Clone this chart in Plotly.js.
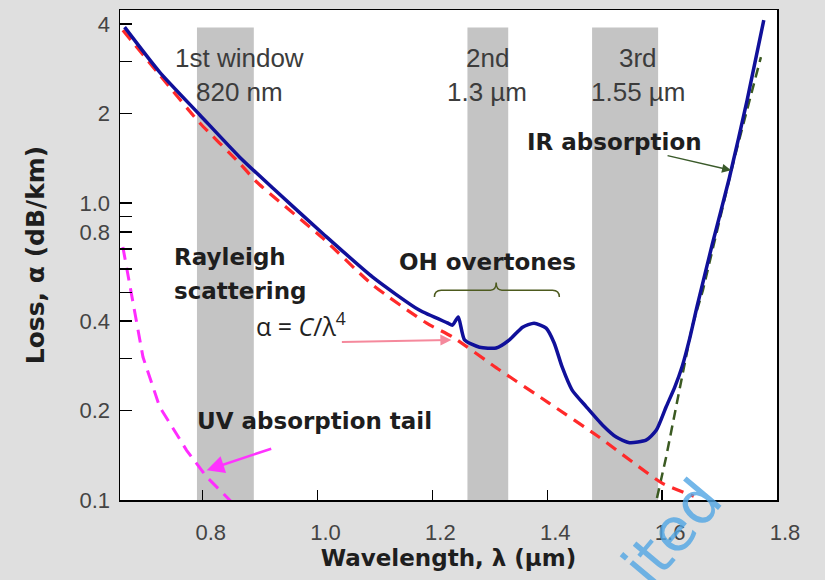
<!DOCTYPE html>
<html>
<head>
<meta charset="utf-8">
<script src="https://cdn.plot.ly/plotly-3.0.1.min.js"></script>
<style>html,body{margin:0;padding:0;background:#dfdfdf;}</style>
</head>
<body>
<div id="chart" style="width:825px;height:580px;"></div>
<script>
// Total measured loss (solid blue)
const wavelengthTotal = [0.664, 0.725, 0.795, 0.864, 0.922, 1.009, 1.096, 1.177, 1.226, 1.235, 1.245, 1.256, 1.282, 1.311, 1.334, 1.357, 1.377, 1.398, 1.412, 1.426, 1.443, 1.468, 1.496, 1.520, 1.543, 1.572, 1.590, 1.607, 1.622, 1.635, 1.648, 1.661, 1.687, 1.717, 1.748, 1.777];
const lossTotal       = [3.91, 2.76, 1.98, 1.43, 1.123, 0.79, 0.563, 0.436, 0.395, 0.388, 0.413, 0.346, 0.327, 0.325, 0.346, 0.382, 0.394, 0.379, 0.338, 0.280, 0.235, 0.206, 0.179, 0.163, 0.156, 0.159, 0.172, 0.206, 0.240, 0.282, 0.350, 0.450, 0.722, 1.214, 2.22, 4.13];

// Rayleigh scattering (red dashed)
const wavelengthRayleigh = [0.661, 0.725, 0.795, 0.864, 0.894, 1.009, 1.096, 1.190, 1.235, 1.317, 1.403, 1.490, 1.600, 1.655];
const lossRayleigh       = [3.82, 2.70, 1.86, 1.364, 1.177, 0.762, 0.530, 0.394, 0.354, 0.274, 0.212, 0.163, 0.114, 0.103];

// UV absorption tail (magenta dashed)
const wavelengthUV = [0.661, 0.678, 0.696, 0.725, 0.772, 0.807, 0.852];
const lossUV       = [0.711, 0.471, 0.303, 0.206, 0.147, 0.1196, 0.0977];

// IR absorption (green dashed)
const wavelengthIR = [1.591, 1.607, 1.630, 1.652, 1.671, 1.725, 1.772];
const lossIR       = [0.1016, 0.1396, 0.234, 0.382, 0.509, 1.396, 3.10];

// Transmission windows (µm)
const windowStart = [0.790, 1.261, 1.478];
const windowEnd   = [0.889, 1.332, 1.593];
const windowTop = 3.9;
const windowLine1 = ['1st window', '2nd', '3rd'];
const windowLine2 = ['820 nm', '1.3 µm', '1.55 µm'];
const windowLabelX = [0.1826, 0.5586, 0.7884];

// OH overtone brace span
const ohStart = 1.2035, ohMid = 1.311, ohEnd = 1.421;
const ohBase = 0.483, ohLine = 0.509, ohPeak = 0.540;

// Ticks
const xTickVals = [0.8, 1.0, 1.2, 1.4, 1.6, 1.8];
const xTickText = ['0.8', '1.0', '1.2', '1.4', '1.6', '1.8'];
const yTickVals = [0.1, 0.2, 0.4, 0.8, 1.0, 2, 4];
const yTickText = ['0.1', '0.2', '0.4', '0.8', '1.0', '2', '4'];
const yMinorTickVals = [0.3, 0.5, 0.6, 0.7, 0.9, 3];

const sans = 'Liberation Sans, Arial, sans-serif';
const bold = 'DejaVu Sans, Verdana, sans-serif';

const traces = [
  {x: wavelengthUV, y: lossUV, mode: 'lines', line: {color: '#ff2cff', width: 3, dash: '13px,8px'}, hoverinfo: 'skip'},
  {x: wavelengthIR, y: lossIR, mode: 'lines', line: {color: '#3b5a22', width: 2.5, dash: '10px,6px'}, hoverinfo: 'skip'},
  {x: wavelengthRayleigh, y: lossRayleigh, mode: 'lines', line: {color: '#ff2a2a', width: 3.2, dash: '12px,8px', shape: 'spline', smoothing: 0.6}, hoverinfo: 'skip'},
  {x: wavelengthTotal, y: lossTotal, mode: 'lines', line: {color: '#10109a', width: 3.5, shape: 'spline', smoothing: 0.6}, hoverinfo: 'skip'}
];

const shapes = windowStart.map((s, i) => ({
  type: 'rect', xref: 'x', yref: 'y', x0: s, x1: windowEnd[i], y0: 0.1, y1: windowTop,
  fillcolor: '#c4c4c4', line: {width: 0}, layer: 'below'
}));
shapes.push({
  type: 'path', xref: 'x', yref: 'y', layer: 'above',
  path: `M ${ohStart},${ohBase} Q ${ohStart},${ohLine} ${ohStart + 0.012},${ohLine} L ${ohMid - 0.01},${ohLine} Q ${ohMid},${ohLine} ${ohMid},${ohPeak} Q ${ohMid},${ohLine} ${ohMid + 0.01},${ohLine} L ${ohEnd - 0.012},${ohLine} Q ${ohEnd},${ohLine} ${ohEnd},${ohBase}`,
  line: {color: '#4d5a1e', width: 1.5}
});

const annotations = [];
windowLine1.forEach((t, i) => {
  annotations.push({xref: 'paper', yref: 'paper', x: windowLabelX[i], y: 0.902, text: t, showarrow: false,
    font: {family: sans, size: 26, color: '#3c3c3c'}, xanchor: 'center', yanchor: 'middle'});
  annotations.push({xref: 'paper', yref: 'paper', x: windowLabelX[i], y: 0.833, text: windowLine2[i], showarrow: false,
    font: {family: sans, size: 26, color: '#3c3c3c'}, xanchor: 'center', yanchor: 'middle'});
});
const boldFont = {family: bold, size: 23, color: '#1e1e1e', weight: 'bold'};
annotations.push(
  {xref: 'paper', yref: 'paper', x: 0.7534, y: 0.7306, text: 'IR absorption', showarrow: false, font: boldFont, xanchor: 'center', yanchor: 'middle'},
  {xref: 'paper', yref: 'paper', x: 0.5594, y: 0.4857, text: 'OH overtones', showarrow: false, font: boldFont, xanchor: 'center', yanchor: 'middle'},
  {xref: 'paper', yref: 'paper', x: 0.0791, y: 0.4959, text: 'Rayleigh', showarrow: false, font: boldFont, xanchor: 'left', yanchor: 'middle'},
  {xref: 'paper', yref: 'paper', x: 0.0791, y: 0.4265, text: 'scattering', showarrow: false, font: boldFont, xanchor: 'left', yanchor: 'middle'},
  {xref: 'paper', yref: 'paper', x: 0.2755, y: 0.359, text: 'α = <i>C</i>/λ<sup>4</sup>', showarrow: false,
    font: {family: 'Open Sans, DejaVu Sans, sans-serif', size: 25, color: '#222'}, xanchor: 'center', yanchor: 'middle'},
  {xref: 'paper', yref: 'paper', x: 0.2953, y: 0.1612, text: 'UV absorption tail', showarrow: false, font: boldFont, xanchor: 'center', yanchor: 'middle'},
  // arrows
  {xref: 'x', yref: 'y', x: 1.233, y: Math.log10(0.346), ax: -111, ay: 2, text: '', showarrow: true,
    arrowcolor: '#f5899c', arrowwidth: 2, arrowhead: 2, arrowsize: 1.1, standoff: 0},
  {xref: 'x', yref: 'y', x: 0.807, y: Math.log10(0.126), ax: 66, ay: -22, text: '', showarrow: true,
    arrowcolor: '#ff33ff', arrowwidth: 2.5, arrowhead: 2, arrowsize: 1.4, standoff: 0},
  {xref: 'x', yref: 'y', x: 1.72, y: Math.log10(1.289), ax: -65, ay: -15, text: '', showarrow: true,
    arrowcolor: '#3a5a2a', arrowwidth: 1.5, arrowhead: 2, arrowsize: 1.2, standoff: 0},
  // watermark
  {xref: 'paper', yref: 'paper', x: 0.84, y: -0.065, text: 'ited', showarrow: false, textangle: -50,
    xanchor: 'center', yanchor: 'middle',
    font: {family: 'DejaVu Sans, sans-serif', size: 60, color: 'rgba(80,165,228,0.8)'}}
);

const layout = {
  width: 825, height: 580,
  margin: {l: 120, r: 48, t: 10, b: 80},
  paper_bgcolor: '#dfdfdf', plot_bgcolor: '#ffffff',
  showlegend: false,
  xaxis: {
    range: [0.656, 1.8], showgrid: false, zeroline: false,
    showline: true, mirror: true, linecolor: '#000', linewidth: 1.5,
    ticks: 'inside', ticklen: 10, tickwidth: 1.5, tickcolor: '#000',
    tickvals: xTickVals, ticktext: xTickText, ticklabelstandoff: 12, ticklabelshift: 8,
    tickfont: {family: sans, size: 22, color: '#444'},
    title: {text: 'Wavelength, λ (µm)', font: {family: bold, size: 23, color: '#1e1e1e', weight: 'bold'}, standoff: 6}
  },
  yaxis: {
    type: 'log', range: [-1, 0.65], showgrid: false, zeroline: false,
    showline: true, mirror: true, linecolor: '#000', linewidth: 1.5,
    ticks: 'inside', ticklen: 12, tickwidth: 1.5, tickcolor: '#000',
    tickvals: yTickVals, ticktext: yTickText, ticklabelstandoff: 4,
    minor: {tickvals: yMinorTickVals, ticks: 'inside', ticklen: 12, tickwidth: 1.5, tickcolor: '#000', showgrid: false},
    tickfont: {family: sans, size: 22, color: '#444'},
    title: {text: 'Loss, α (dB/km)', font: {family: bold, size: 25, color: '#1e1e1e', weight: 'bold'}, standoff: 28}
  },
  shapes: shapes,
  annotations: annotations
};

Plotly.newPlot('chart', traces, layout, {displayModeBar: false, staticPlot: true});
</script>
</body>
</html>
